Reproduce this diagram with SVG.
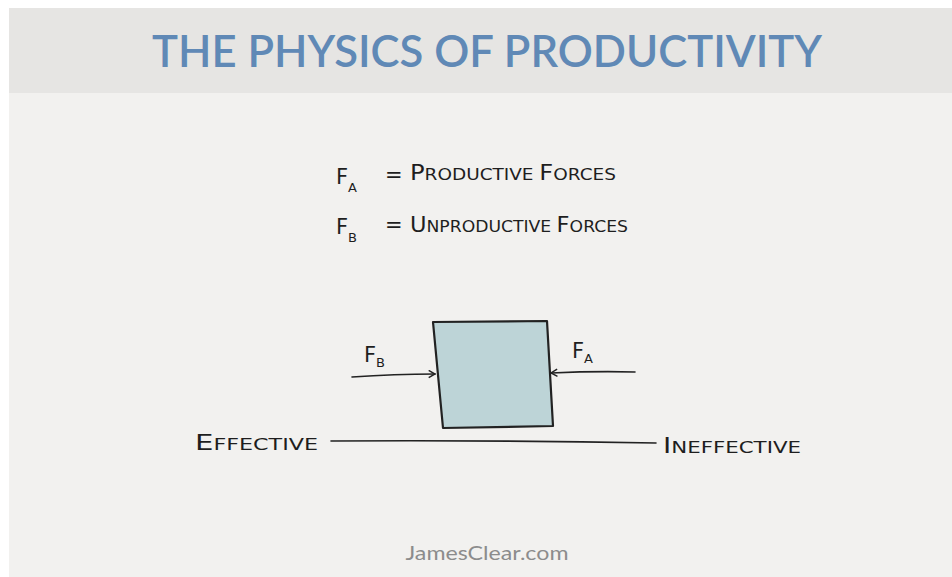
<svg xmlns="http://www.w3.org/2000/svg" width="952" height="577" viewBox="0 0 952 577">
<style>
.hand{font-family:"DejaVu Sans","Liberation Sans",sans-serif;fill:#1e1e1e;}
.big{font-size:21px;}
.sm{font-size:16px;}
.sub{font-size:13px;}
.ln{fill:none;stroke:#222;stroke-width:1.6;stroke-linecap:round;}
</style>
<defs>
<marker id="ah" viewBox="0 0 10 10" refX="9" refY="5" markerWidth="9" markerHeight="9" markerUnits="userSpaceOnUse" orient="auto">
<path d="M2,1 L9,5 L2,9" fill="none" stroke="#222" stroke-width="1.6"/>
</marker>
</defs>
<rect x="0" y="0" width="952" height="577" fill="#ffffff"/>
<rect x="9" y="8" width="943" height="569" fill="#f2f1ef"/>
<rect x="9" y="8" width="943" height="85" fill="#e6e5e3"/>
<text x="487" y="67" text-anchor="middle" font-family="Lato,'Open Sans',sans-serif" font-weight="600" font-size="45" fill="#6089b6" textLength="670" lengthAdjust="spacingAndGlyphs">THE PHYSICS OF PRODUCTIVITY</text>

<g id="legend">
<text class="hand" x="336" y="184"><tspan class="big">F</tspan><tspan class="sub" dy="8">A</tspan></text>
<text class="hand big" x="385" y="182">=</text>
<text class="hand" x="410" y="180" textLength="206" lengthAdjust="spacingAndGlyphs"><tspan class="big">P</tspan><tspan class="sm">RODUCTIVE </tspan><tspan class="big">F</tspan><tspan class="sm">ORCES</tspan></text>
<text class="hand" x="336" y="234"><tspan class="big">F</tspan><tspan class="sub" dy="8">B</tspan></text>
<text class="hand big" x="385" y="232">=</text>
<text class="hand" x="410" y="232" textLength="218" lengthAdjust="spacingAndGlyphs"><tspan class="big">U</tspan><tspan class="sm">NPRODUCTIVE </tspan><tspan class="big">F</tspan><tspan class="sm">ORCES</tspan></text>
</g>

<g id="block">
<path d="M433,322 L547,321 L553,426 L443,428 Z" fill="#bdd4d7" stroke="#222" stroke-width="2.2" stroke-linejoin="round"/>
</g>

<g id="label-fb">
<text class="hand" x="364" y="362"><tspan class="big">F</tspan><tspan class="sub" dy="5">B</tspan></text>
</g>
<g id="label-fa">
<text class="hand" x="572" y="358"><tspan class="big">F</tspan><tspan class="sub" dy="5">A</tspan></text>
</g>
<g id="effective">
<text class="hand" x="195" y="450" textLength="123" lengthAdjust="spacingAndGlyphs"><tspan class="big">E</tspan><tspan class="sm">FFECTIVE</tspan></text>
</g>
<g id="ineffective">
<text class="hand" x="663" y="453" textLength="138" lengthAdjust="spacingAndGlyphs"><tspan class="big">I</tspan><tspan class="sm">NEFFECTIVE</tspan></text>
</g>

<g id="connectors">
<path class="ln" d="M352,377 Q395,374 435,374" marker-end="url(#ah)"/>
<path class="ln" d="M635,372 Q595,371 551,373" marker-end="url(#ah)"/>
<path class="ln" d="M331,441 Q490,440 656,443"/>
</g>

<text x="487" y="560" text-anchor="middle" font-family="Lato,'Open Sans',sans-serif" font-size="19" fill="#8c8c8c" textLength="163" lengthAdjust="spacingAndGlyphs">JamesClear.com</text>
</svg>
